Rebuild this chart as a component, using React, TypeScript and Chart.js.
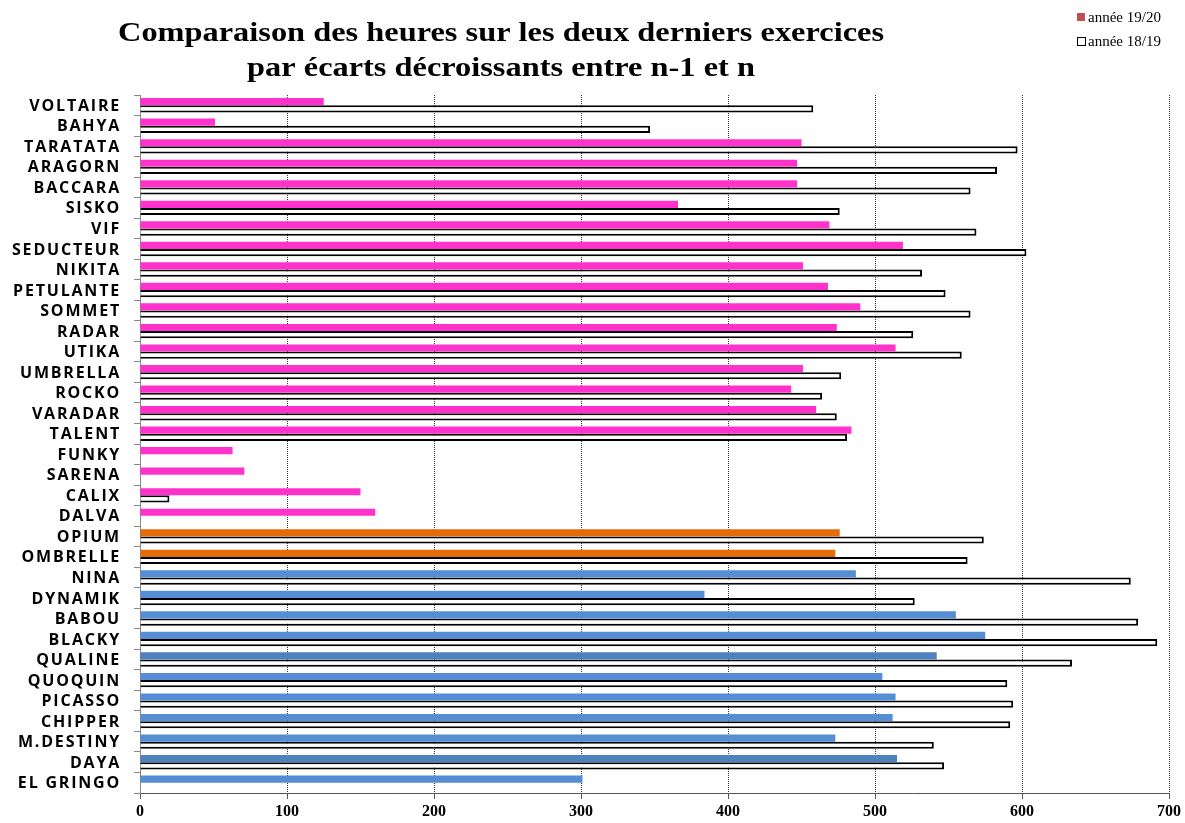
import { useEffect, useRef } from 'react';
import { Chart, registerables } from 'chart.js';

Chart.register(...registerables);

const titleLines = [
  'Comparaison des heures sur les deux derniers exercices',
  'par écarts décroissants entre n-1 et n',
];

const seriesNames = ['année 19/20', 'année 18/19'];

const categories = [
  'VOLTAIRE', 'BAHYA', 'TARATATA', 'ARAGORN', 'BACCARA', 'SISKO', 'VIF', 'SEDUCTEUR',
  'NIKITA', 'PETULANTE', 'SOMMET', 'RADAR', 'UTIKA', 'UMBRELLA', 'ROCKO', 'VARADAR',
  'TALENT', 'FUNKY', 'SARENA', 'CALIX', 'DALVA', 'OPIUM', 'OMBRELLE', 'NINA',
  'DYNAMIK', 'BABOU', 'BLACKY', 'QUALINE', 'QUOQUIN', 'PICASSO', 'CHIPPER', 'M.DESTINY',
  'DAYA', 'EL GRINGO',
];

const hours1920 = [
  125, 51, 450, 447, 447, 366, 469, 519,
  451, 468, 490, 474, 514, 451, 443, 460,
  484, 63, 71, 150, 160, 476, 473, 487,
  384, 555, 575, 542, 505, 514, 512, 473,
  515, 301,
];

const hours1819 = [
  458, 347, 597, 583, 565, 476, 569, 603,
  532, 548, 565, 526, 559, 477, 464, 474,
  481, null, null, 20, null, 574, 563, 674,
  527, 679, 692, 634, 590, 594, 592, 540,
  547, null,
];

const PINK = '#FF33CC';
const ORANGE = '#E36C0A';
const BLUE = '#558ED5';
const BLUE_DARK = '#4F81BD';

const barColors = [
  PINK, PINK, PINK, PINK, PINK, PINK, PINK, PINK,
  PINK, PINK, PINK, PINK, PINK, PINK, PINK, PINK,
  PINK, PINK, PINK, PINK, PINK, ORANGE, ORANGE, BLUE,
  BLUE, BLUE, BLUE, BLUE_DARK, BLUE, BLUE, BLUE, BLUE,
  BLUE_DARK, BLUE,
];

const X_MIN = 0;
const X_MAX = 700;
const X_STEP = 100;

const decorPlugin = {
  id: 'decor',
  afterDraw(chart: any) {
    const ctx = chart.ctx as CanvasRenderingContext2D;
    // Title
    ctx.save();
    ctx.fillStyle = '#000';
    ctx.font = 'bold 28px "Liberation Serif"';
    ctx.textAlign = 'center';
    ctx.textBaseline = 'alphabetic';
    const w1 = ctx.measureText(titleLines[0]).width;
    const sx = 766 / w1;
    const cx = 501;
    [41, 76].forEach((by, i) => {
      ctx.save();
      ctx.translate(cx, by);
      ctx.scale(sx, 1);
      ctx.fillText(titleLines[i], 0, 0);
      ctx.restore();
    });
    ctx.restore();

    // Legend
    ctx.save();
    ctx.font = '15px "Liberation Serif"';
    ctx.textAlign = 'left';
    ctx.textBaseline = 'middle';
    ctx.fillStyle = '#C0504D';
    ctx.fillRect(1077, 13, 8, 8);
    ctx.fillStyle = '#000';
    ctx.fillText(seriesNames[0], 1088, 18);
    ctx.fillStyle = '#fff';
    ctx.fillRect(1077.5, 37.5, 8, 8);
    ctx.strokeStyle = '#000';
    ctx.lineWidth = 1;
    ctx.strokeRect(1077.5, 37.5, 8, 8);
    ctx.fillStyle = '#000';
    ctx.fillText(seriesNames[1], 1088, 42);
    ctx.restore();

    // Category labels with letter spacing
    const yScale = chart.scales.y;
    ctx.save();
    ctx.font = 'bold 16px "Open Sans"';
    (ctx as any).letterSpacing = '1.8px';
    ctx.textAlign = 'right';
    ctx.textBaseline = 'middle';
    ctx.fillStyle = '#000';
    categories.forEach((lab, i) => {
      const y = yScale.getPixelForValue(i);
      ctx.fillText(lab, 121, y + 1);
    });
    ctx.restore();
  },
};

export default function App() {
  const canvasRef = useRef<HTMLCanvasElement | null>(null);

  useEffect(() => {
    if (!canvasRef.current) return;
    const chart = new Chart(canvasRef.current, {
      type: 'bar',
      data: {
        labels: categories,
        datasets: [
          {
            label: seriesNames[0],
            data: hours1920,
            backgroundColor: barColors,
            borderWidth: 0,
            categoryPercentage: 0.7,
            barPercentage: 1.0,
          },
          {
            label: seriesNames[1],
            data: hours1819,
            backgroundColor: '#ffffff',
            borderColor: '#000000',
            borderWidth: 2,
            categoryPercentage: 0.7,
            barPercentage: 1.0,
          },
        ],
      },
      options: {
        indexAxis: 'y',
        animation: false,
        responsive: false,
        maintainAspectRatio: false,
        layout: { padding: { left: 130, top: 95, right: 16, bottom: 0 } },
        plugins: {
          legend: { display: false },
          title: { display: false },
          tooltip: { enabled: false },
        },
        scales: {
          x: {
            type: 'linear',
            position: 'bottom',
            min: X_MIN,
            max: X_MAX,
            ticks: {
              stepSize: X_STEP,
              padding: 3,
              color: '#000',
              font: { family: '"Liberation Serif"', size: 16, weight: 'bold' },
            },
            grid: {
              display: true,
              drawOnChartArea: true,
              drawTicks: true,
              tickLength: 6,
              color: '#333',
              lineWidth: 1,
              tickBorderDash: [],
              tickColor: '#555',
            },
            border: { display: true, color: '#555', width: 1, dash: [1, 1] },
            afterFit(scale: any) {
              scale.height = 30;
            },
          },
          y: {
            type: 'category',
            position: 'left',
            ticks: { display: false },
            grid: {
              display: true,
              offset: true,
              drawOnChartArea: false,
              drawTicks: true,
              tickLength: 6,
              color: '#888',
            },
            border: { display: true, color: '#888', width: 1 },
            afterFit(scale: any) {
              scale.width = 10;
            },
          },
        },
      },
      plugins: [decorPlugin],
    } as any);
    return () => chart.destroy();
  }, []);

  return (
    <div style={{ position: 'absolute', left: 0, top: 0, width: 1185, height: 823, background: '#fff' }}>
      <canvas ref={canvasRef} width={1185} height={823} style={{ display: 'block', width: 1185, height: 823 }} />
    </div>
  );
}
